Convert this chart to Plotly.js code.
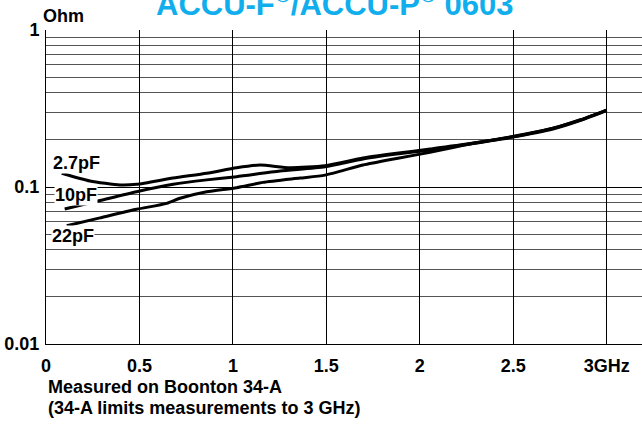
<!DOCTYPE html>
<html>
<head>
<meta charset="utf-8">
<script src="https://cdn.plot.ly/plotly-3.0.1.min.js"></script>
<style>html,body{margin:0;padding:0;background:#fff;}#chart{width:642px;height:424px;}</style>
</head>
<body>
<div id="chart"></div>
<script>
// Data (frequency in GHz, impedance in Ohm)
const freq27 = [0.084, 0.235, 0.396, 0.485, 0.68, 0.86, 1.02, 1.145, 1.305, 1.493, 1.696, 1.876, 2.055, 2.27, 2.49, 2.713, 2.857, 3.0];
const z27    = [0.1223, 0.1092, 0.103, 0.104, 0.114, 0.1223, 0.1327, 0.138, 0.1327, 0.1367, 0.153, 0.164, 0.1746, 0.189, 0.209, 0.2365, 0.267, 0.309];
const freq10 = [0.10, 0.289, 0.485, 0.681, 0.86, 1.02, 1.252, 1.493, 1.696, 1.876, 2.055, 2.27, 2.49, 2.713, 2.857, 3.0];
const z10    = [0.0724, 0.082, 0.0933, 0.104, 0.111, 0.1164, 0.1265, 0.1347, 0.151, 0.162, 0.172, 0.188, 0.207, 0.234, 0.265, 0.307];
const freq22 = [0.111, 0.289, 0.485, 0.646, 0.717, 0.86, 1.02, 1.161, 1.359, 1.493, 1.696, 1.876, 2.055, 2.269, 2.49, 2.713, 2.857, 3.0];
const z22    = [0.0567, 0.0636, 0.0721, 0.0787, 0.0848, 0.0933, 0.099, 0.107, 0.114, 0.119, 0.138, 0.152, 0.1664, 0.188, 0.208, 0.2365, 0.267, 0.309];

const xTickVals = [0, 0.5, 1, 1.5, 2, 2.5, 3];
const xTickText = ['0', '0.5', '1', '1.5', '2', '2.5', '3GHz'];
const yMajorVals = [0.01, 0.1, 1];
const yMajorText = ['0.01', '0.1', '1'];
const yMinorVals = [0.02, 0.03, 0.04, 0.05, 0.06, 0.07, 0.08, 0.09, 0.2, 0.3, 0.4, 0.5, 0.6, 0.7, 0.8, 0.9];
const seriesNames = ['2.7pF', '10pF', '22pF'];

const FONT = 'Liberation Sans, Arial, Helvetica, sans-serif';
const lineStyle = {color: '#000', width: 3, shape: 'spline', smoothing: 0.6};

const traces = [
  {x: freq27, y: z27, name: seriesNames[0], mode: 'lines', line: lineStyle},
  {x: freq10, y: z10, name: seriesNames[1], mode: 'lines', line: lineStyle},
  {x: freq22, y: z22, name: seriesNames[2], mode: 'lines', line: lineStyle}
];

const bold = s => '<b>' + s + '</b>';

const layout = {
  width: 642, height: 424,
  margin: {l: 46, r: 0, t: 30, b: 80, pad: 0},
  paper_bgcolor: '#fff', plot_bgcolor: '#fff',
  showlegend: false,
  font: {family: FONT, color: '#000', size: 18},
  xaxis: {
    range: [0, 3.189],
    tickvals: xTickVals, ticktext: xTickText.map(bold),
    tickfont: {family: FONT, size: 18, color: '#000'},
    showgrid: true, gridcolor: '#000', gridwidth: 1,
    zeroline: false, showline: true, linecolor: '#000', linewidth: 1,
    ticks: '', ticklabelstandoff: 5, fixedrange: true
  },
  yaxis: {
    type: 'log', range: [-2, 0],
    tickvals: yMajorVals, ticktext: yMajorText.map(bold),
    tickfont: {family: FONT, size: 18, color: '#000'},
    showgrid: true, gridcolor: '#000', gridwidth: 1,
    minor: {tickvals: yMinorVals, showgrid: true, gridcolor: '#555', gridwidth: 1, ticks: ''},
    zeroline: false, showline: true, linecolor: '#000', linewidth: 1,
    ticks: '', ticklabelstandoff: 2, fixedrange: true
  },
  annotations: [
    {text: 'ACCU-F<sup>®</sup>/ACCU-P<sup>®</sup> 0603', xref: 'paper', yref: 'paper', x: 0.485, y: 1.02, xanchor: 'center', yanchor: 'bottom', showarrow: false,
     font: {family: FONT, size: 31, color: '#10AEEC', weight: 'bold'}},
    {text: bold('Ohm'), xref: 'paper', yref: 'paper', x: -0.008, y: 1.045, xanchor: 'left', yanchor: 'middle', showarrow: false, font: {family: FONT, size: 18}},
    {text: bold(seriesNames[0]), xref: 'paper', yref: 'paper', x: 0.010, y: 0.575, xanchor: 'left', yanchor: 'middle', showarrow: false, bgcolor: '#fff', borderpad: 0, font: {family: FONT, size: 18}},
    {text: bold(seriesNames[1]), xref: 'paper', yref: 'paper', x: 0.013, y: 0.475, xanchor: 'left', yanchor: 'middle', showarrow: false, bgcolor: '#fff', borderpad: 0, font: {family: FONT, size: 18}},
    {text: bold(seriesNames[2]), xref: 'paper', yref: 'paper', x: 0.008, y: 0.345, xanchor: 'left', yanchor: 'middle', showarrow: false, bgcolor: '#fff', borderpad: 0, font: {family: FONT, size: 18}},
    {text: bold('Measured on Boonton 34-A'), xref: 'paper', yref: 'paper', x: 0, y: -0.136, xanchor: 'left', yanchor: 'middle', showarrow: false, font: {family: FONT, size: 18}},
    {text: bold('(34-A limits measurements to 3 GHz)'), xref: 'paper', yref: 'paper', x: 0, y: -0.204, xanchor: 'left', yanchor: 'middle', showarrow: false, font: {family: FONT, size: 18}}
  ]
};

Plotly.newPlot('chart', traces, layout, {displayModeBar: false, staticPlot: true});
</script>
</body>
</html>
